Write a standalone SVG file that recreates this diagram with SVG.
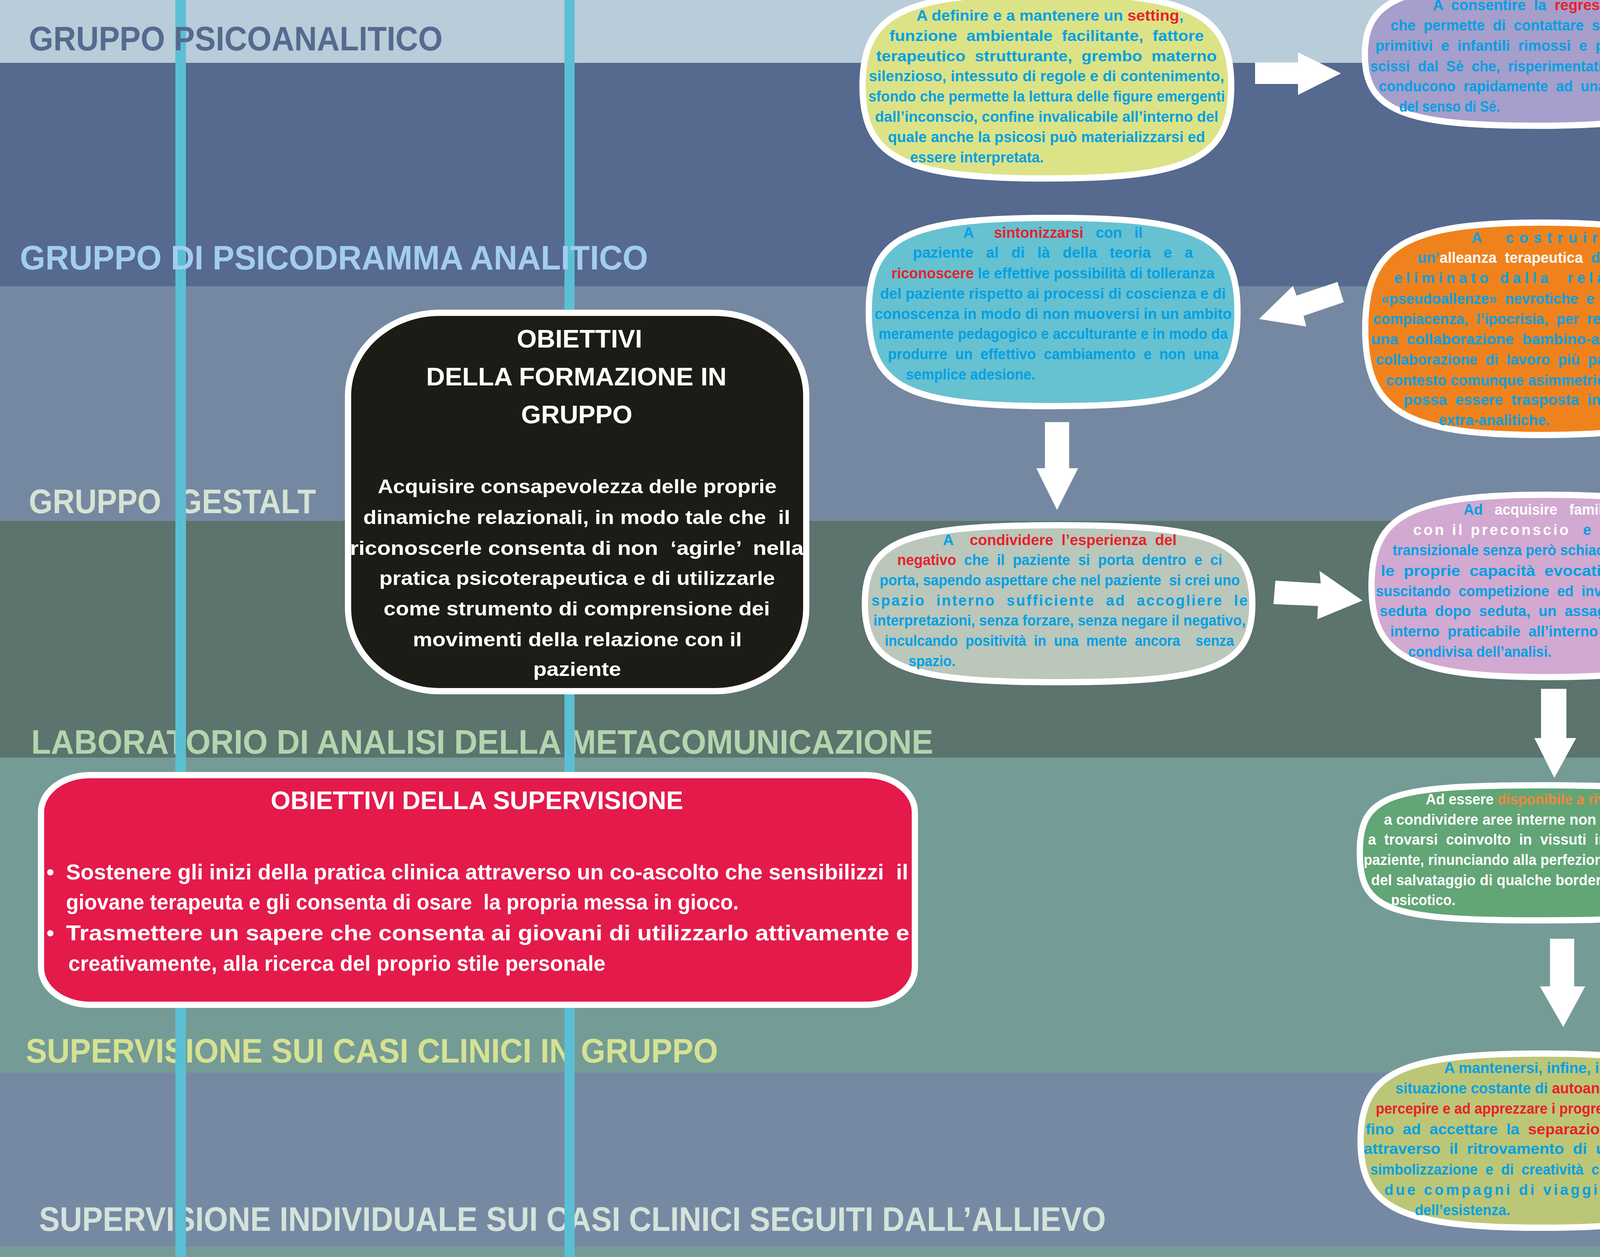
<svg xmlns="http://www.w3.org/2000/svg" width="4425" height="3219" viewBox="0 0 4425 3219">
<defs>
<style>
text{font-family:"Liberation Sans",Arial,sans-serif;font-weight:bold;white-space:pre}
.lab{font-size:88px}
.nb{font-size:38px;fill:#00A0E3}
.nw{font-size:38px;fill:#FFFFFF}
.r{fill:#E8202A}
.w{fill:#FFFFFF}
.b{fill:#00A0E3}
.o{fill:#F4873E}
.node{stroke:#FFFFFF;stroke-width:16}
.arrow{fill:#FFFFFF}
.bt{font-size:64px;fill:#FFFFFF}
.bb{font-size:50px;fill:#FFFFFF}
.rb{font-size:56px;fill:#FFFFFF}
.stripe{fill:#5BBFD3}
</style>
</defs>
<g id="background">
<rect x="0" y="0" width="4425" height="161" fill="#B8CCD9"/>
<rect x="0" y="161" width="4425" height="572" fill="#56698F"/>
<rect x="0" y="733" width="4425" height="601" fill="#7588A2"/>
<rect x="0" y="1334" width="4425" height="606" fill="#5C736E"/>
<rect x="0" y="1940" width="4425" height="807" fill="#759B97"/>
<rect x="0" y="2747" width="4425" height="445" fill="#7689A3"/>
<rect x="0" y="3192" width="4425" height="27" fill="#759B97"/>
</g>
<g id="band-labels-lower">
<text class="lab" xml:space="preserve" x="74" y="1314" textLength="735" lengthAdjust="spacingAndGlyphs" fill="#D5E3D2">GRUPPO  GESTALT</text>
<text class="lab" xml:space="preserve" x="80" y="1930" textLength="2309" lengthAdjust="spacingAndGlyphs" fill="#B2D5AE">LABORATORIO DI ANALISI DELLA METACOMUNICAZIONE</text>
<text class="lab" xml:space="preserve" x="66" y="2721" textLength="1772" lengthAdjust="spacingAndGlyphs" fill="#D6E292">SUPERVISIONE SUI CASI CLINICI IN GRUPPO</text>
<text class="lab" xml:space="preserve" x="100" y="3152" textLength="2731" lengthAdjust="spacingAndGlyphs" fill="#D4E3DA">SUPERVISIONE INDIVIDUALE SUI CASI CLINICI SEGUITI DALL’ALLIEVO</text>
</g>
<g id="stripes">
<rect class="stripe" x="449" y="0" width="27" height="3219"/>
<rect class="stripe" x="1445" y="0" width="26" height="3219"/>
</g>
<g id="band-labels-upper">
<text class="lab" xml:space="preserve" x="74" y="129" textLength="1059" lengthAdjust="spacingAndGlyphs" fill="#56698F">GRUPPO PSICOANALITICO</text>
<text class="lab" xml:space="preserve" x="51" y="690" textLength="1608" lengthAdjust="spacingAndGlyphs" fill="#A3CDF0">GRUPPO DI PSICODRAMMA ANALITICO</text>
</g>
<g id="connectors" class="arrow">
<polygon points="3213,160 3323,160 3323,134 3433,188 3323,243 3323,215 3213,215"/>
<polygon points="4241,354 4280,392 4207,475 4225,493 4112,538 4148,419 4168,437"/>
<polygon points="3424,722 3440,774 3337,809 3344,836 3223,817 3310,732 3319,757"/>
<polygon points="2675,1081 2737,1081 2737,1199 2760,1199 2706,1306 2653,1199 2675,1199"/>
<polygon points="3265,1487 3381,1494 3378,1462 3488,1538 3372,1586 3374,1552 3260,1547"/>
<polygon points="3945,1764 4010,1764 4010,1890 4035,1890 3979,1992 3928,1890 3945,1890"/>
<polygon points="3968,2404 4030,2404 4030,2526 4058,2526 4002,2630 3942,2526 3968,2526"/>
</g>
<g id="node-formazione">
<rect class="node" x="891" y="801" width="1173" height="969" rx="235" ry="212" fill="#1C1C17"/>
<text class="bt" xml:space="preserve" x="1323" y="890" textLength="321" lengthAdjust="spacingAndGlyphs">OBIETTIVI</text>
<text class="bt" xml:space="preserve" x="1091" y="987" textLength="769" lengthAdjust="spacingAndGlyphs">DELLA FORMAZIONE IN</text>
<text class="bt" xml:space="preserve" x="1334" y="1084" textLength="285" lengthAdjust="spacingAndGlyphs">GRUPPO</text>
<text class="bb" xml:space="preserve" x="967" y="1263" textLength="1021" lengthAdjust="spacingAndGlyphs">Acquisire consapevolezza delle proprie</text>
<text class="bb" xml:space="preserve" x="930" y="1342" textLength="1093" lengthAdjust="spacingAndGlyphs">dinamiche relazionali, in modo tale che  il</text>
<text class="bb" xml:space="preserve" x="896" y="1421" textLength="1161" lengthAdjust="spacingAndGlyphs">riconoscerle consenta di non  ‘agirle’  nella</text>
<text class="bb" xml:space="preserve" x="971" y="1498" textLength="1013" lengthAdjust="spacingAndGlyphs">pratica psicoterapeutica e di utilizzarle</text>
<text class="bb" xml:space="preserve" x="982" y="1576" textLength="989" lengthAdjust="spacingAndGlyphs">come strumento di comprensione dei</text>
<text class="bb" xml:space="preserve" x="1057" y="1655" textLength="842" lengthAdjust="spacingAndGlyphs">movimenti della relazione con il</text>
<text class="bb" xml:space="preserve" x="1365" y="1731" textLength="225" lengthAdjust="spacingAndGlyphs">paziente</text>
</g>
<g id="node-supervisione">
<rect class="node" x="105" y="1985" width="2237" height="588" rx="125" ry="95" fill="#E41A4B"/>
<text class="bt" xml:space="preserve" x="693" y="2072" textLength="1056" lengthAdjust="spacingAndGlyphs">OBIETTIVI DELLA SUPERVISIONE</text>
<text class="rb" x="119" y="2252">•</text>
<text class="rb" xml:space="preserve" x="169" y="2252" textLength="2156" lengthAdjust="spacingAndGlyphs">Sostenere gli inizi della pratica clinica attraverso un co-ascolto che sensibilizzi  il</text>
<text class="rb" xml:space="preserve" x="169" y="2329" textLength="1722" lengthAdjust="spacingAndGlyphs">giovane terapeuta e gli consenta di osare  la propria messa in gioco.</text>
<text class="rb" x="119" y="2408">•</text>
<text class="rb" xml:space="preserve" x="169" y="2408" textLength="2159" lengthAdjust="spacingAndGlyphs">Trasmettere un sapere che consenta ai giovani di utilizzarlo attivamente e</text>
<text class="rb" xml:space="preserve" x="175" y="2486" textLength="1375" lengthAdjust="spacingAndGlyphs">creativamente, alla ricerca del proprio stile personale</text>
</g>
<g id="node-setting">
<path class="node" fill="#DCE387" d="M2680,-17 C3048,-17 3152,35 3152,220 C3152,405 3048,457 2680,457 C2312,457 2208,405 2208,220 C2208,35 2312,-17 2680,-17 Z"/>
<text class="nb" xml:space="preserve" x="2346" y="53" textLength="684" lengthAdjust="spacingAndGlyphs">A definire e a mantenere un <tspan class="r">setting</tspan>,</text>
<text class="nb" xml:space="preserve" x="2277" y="105" textLength="805" lengthAdjust="spacingAndGlyphs">funzione  ambientale  facilitante,  fattore</text>
<text class="nb" xml:space="preserve" x="2243" y="157" textLength="872" lengthAdjust="spacingAndGlyphs">terapeutico  strutturante,  grembo  materno</text>
<text class="nb" xml:space="preserve" x="2224" y="208" textLength="910" lengthAdjust="spacingAndGlyphs">silenzioso, intessuto di regole e di contenimento,</text>
<text class="nb" xml:space="preserve" x="2223" y="260" textLength="913" lengthAdjust="spacingAndGlyphs">sfondo che permette la lettura delle figure emergenti</text>
<text class="nb" xml:space="preserve" x="2240" y="312" textLength="879" lengthAdjust="spacingAndGlyphs">dall’inconscio, confine invalicabile all’interno del</text>
<text class="nb" xml:space="preserve" x="2273" y="364" textLength="812" lengthAdjust="spacingAndGlyphs">quale anche la psicosi può materializzarsi ed</text>
<text class="nb" xml:space="preserve" x="2330" y="416" textLength="342" lengthAdjust="spacingAndGlyphs">essere interpretata.</text>
</g>
<g id="node-regressione">
<path class="node" fill="#A69ECB" d="M3931,-42 C4272,-42 4368,-2 4368,140 C4368,282 4272,322 3931,322 C3590,322 3494,282 3494,140 C3494,-2 3590,-42 3931,-42 Z"/>
<text class="nb" xml:space="preserve" x="3668" y="26" textLength="526" lengthAdjust="spacingAndGlyphs">A  consentire  la  <tspan class="r">regressione</tspan></text>
<text class="nb" xml:space="preserve" x="3560" y="78" textLength="742" lengthAdjust="spacingAndGlyphs">che  permette  di  contattare  stati  emotivi</text>
<text class="nb" xml:space="preserve" x="3521" y="130" textLength="820" lengthAdjust="spacingAndGlyphs">primitivi  e  infantili  rimossi  e  precocemente</text>
<text class="nb" xml:space="preserve" x="3508" y="183" textLength="845" lengthAdjust="spacingAndGlyphs">scissi  dal  Sè  che,  risperimentati  come  propri,</text>
<text class="nb" xml:space="preserve" x="3530" y="234" textLength="802" lengthAdjust="spacingAndGlyphs">conducono  rapidamente  ad  una  espansione</text>
<text class="nb" xml:space="preserve" x="3582" y="286" textLength="258" lengthAdjust="spacingAndGlyphs">del senso di Sé.</text>
</g>
<g id="node-alleanza">
<path class="node" fill="#F0821E" d="M3948,570 C4301,570 4401,630 4401,842 C4401,1054 4301,1114 3948,1114 C3595,1114 3495,1054 3495,842 C3495,630 3595,570 3948,570 Z"/>
<text class="nb" xml:space="preserve" x="3767" y="622" textLength="358" lengthAdjust="spacing">A  costruire</text>
<text class="nb" xml:space="preserve" x="3629" y="673" textLength="634" lengthAdjust="spacingAndGlyphs">un’<tspan class="w">alleanza  terapeutica</tspan>  dopo  aver</text>
<text class="nb" xml:space="preserve" x="3569" y="725" textLength="754" lengthAdjust="spacing">eliminato dalla  relazione le</text>
<text class="nb" xml:space="preserve" x="3536" y="778" textLength="821" lengthAdjust="spacingAndGlyphs">«pseudoallenze»  nevrotiche  e  psicotiche,   la</text>
<text class="nb" xml:space="preserve" x="3515" y="830" textLength="862" lengthAdjust="spacingAndGlyphs">compiacenza,  l’ipocrisia,  per  recuperare  prima</text>
<text class="nb" xml:space="preserve" x="3510" y="882" textLength="874" lengthAdjust="spacingAndGlyphs">una  collaborazione  bambino-adulto,  poi   una</text>
<text class="nb" xml:space="preserve" x="3522" y="934" textLength="849" lengthAdjust="spacingAndGlyphs">collaborazione  di  lavoro  più  paritaria  che  dal</text>
<text class="nb" xml:space="preserve" x="3548" y="987" textLength="794" lengthAdjust="spacingAndGlyphs">contesto comunque asimmetrico dell’analisi,</text>
<text class="nb" xml:space="preserve" x="3593" y="1037" textLength="704" lengthAdjust="spacingAndGlyphs">possa  essere  trasposta  in  situazioni</text>
<text class="nb" xml:space="preserve" x="3683" y="1089" textLength="285" lengthAdjust="spacingAndGlyphs">extra-analitiche.</text>
</g>
<g id="node-sintonizzarsi">
<path class="node" fill="#66C1D1" d="M2696,558 C3074,558 3168,606 3168,799 C3168,992 3074,1040 2696,1040 C2318,1040 2224,992 2224,799 C2224,606 2318,558 2696,558 Z"/>
<text class="nb" xml:space="preserve" x="2466" y="609" textLength="459" lengthAdjust="spacingAndGlyphs">A     <tspan class="r">sintonizzarsi</tspan>   con   il</text>
<text class="nb" xml:space="preserve" x="2337" y="660" textLength="717" lengthAdjust="spacingAndGlyphs">paziente   al   di   là   della   teoria   e   a</text>
<text class="nb" xml:space="preserve" x="2282" y="713" textLength="827" lengthAdjust="spacingAndGlyphs"><tspan class="r">riconoscere</tspan> le effettive possibilità di tolleranza</text>
<text class="nb" xml:space="preserve" x="2253" y="765" textLength="885" lengthAdjust="spacingAndGlyphs">del paziente rispetto ai processi di coscienza e di</text>
<text class="nb" xml:space="preserve" x="2239" y="817" textLength="914" lengthAdjust="spacingAndGlyphs">conoscenza in modo di non muoversi in un ambito</text>
<text class="nb" xml:space="preserve" x="2249" y="868" textLength="894" lengthAdjust="spacingAndGlyphs">meramente pedagogico e acculturante e in modo da</text>
<text class="nb" xml:space="preserve" x="2273" y="920" textLength="847" lengthAdjust="spacingAndGlyphs">produrre  un  effettivo  cambiamento  e  non  una</text>
<text class="nb" xml:space="preserve" x="2319" y="972" textLength="331" lengthAdjust="spacingAndGlyphs">semplice adesione.</text>
</g>
<g id="node-negativo">
<path class="node" fill="#BAC7BA" d="M2710,1345 C3107,1345 3206,1385 3206,1546 C3206,1707 3107,1747 2710,1747 C2313,1747 2214,1707 2214,1546 C2214,1385 2313,1345 2710,1345 Z"/>
<text class="nb" xml:space="preserve" x="2414" y="1396" textLength="598" lengthAdjust="spacingAndGlyphs">A    <tspan class="r">condividere  l’esperienza  del</tspan></text>
<text class="nb" xml:space="preserve" x="2297" y="1447" textLength="832" lengthAdjust="spacingAndGlyphs"><tspan class="r">negativo</tspan>  che  il  paziente  si  porta  dentro  e  ci</text>
<text class="nb" xml:space="preserve" x="2252" y="1499" textLength="922" lengthAdjust="spacingAndGlyphs">porta, sapendo aspettare che nel paziente  si crei uno</text>
<text class="nb" xml:space="preserve" x="2231" y="1551" textLength="963" lengthAdjust="spacing">spazio  interno  sufficiente  ad  accogliere  le</text>
<text class="nb" xml:space="preserve" x="2236" y="1602" textLength="953" lengthAdjust="spacingAndGlyphs">interpretazioni, senza forzare, senza negare il negativo,</text>
<text class="nb" xml:space="preserve" x="2265" y="1654" textLength="894" lengthAdjust="spacingAndGlyphs">inculcando  positività  in  una  mente  ancora    senza</text>
<text class="nb" xml:space="preserve" x="2326" y="1706" textLength="120" lengthAdjust="spacingAndGlyphs">spazio.</text>
</g>
<g id="node-familiarita">
<path class="node" fill="#D2A9D0" d="M3961,1267 C4312,1267 4411,1318 4411,1500 C4411,1682 4312,1734 3961,1734 C3610,1734 3511,1682 3511,1500 C3511,1318 3610,1267 3961,1267 Z"/>
<text class="nb" xml:space="preserve" x="3747" y="1318" textLength="443" lengthAdjust="spacingAndGlyphs">Ad   <tspan class="w">acquisire   familiarità</tspan></text>
<text class="nb" xml:space="preserve" x="3618" y="1370" textLength="702" lengthAdjust="spacing"><tspan class="w">con il preconscio</tspan>  e con l’area</text>
<text class="nb" xml:space="preserve" x="3565" y="1422" textLength="808" lengthAdjust="spacingAndGlyphs">transizionale senza però schiacciare l’altro con</text>
<text class="nb" xml:space="preserve" x="3535" y="1475" textLength="868" lengthAdjust="spacingAndGlyphs">le  proprie  capacità  evocative  ed  intuitive</text>
<text class="nb" xml:space="preserve" x="3522" y="1527" textLength="892" lengthAdjust="spacingAndGlyphs">suscitando  competizione  ed  invidia  ma  offrendo,</text>
<text class="nb" xml:space="preserve" x="3532" y="1578" textLength="874" lengthAdjust="spacingAndGlyphs">seduta  dopo  seduta,  un  assaggio  di  un  clima</text>
<text class="nb" xml:space="preserve" x="3559" y="1630" textLength="820" lengthAdjust="spacingAndGlyphs">interno  praticabile  all’interno  dell’esperienza</text>
<text class="nb" xml:space="preserve" x="3605" y="1682" textLength="367" lengthAdjust="spacingAndGlyphs">condivisa dell’analisi.</text>
</g>
<g id="node-rivisitare">
<path class="node" fill="#62A576" d="M3946,2011 C4341,2011 4411,2037 4411,2184 C4411,2331 4341,2357 3946,2357 C3551,2357 3481,2331 3481,2184 C3481,2037 3551,2011 3946,2011 Z"/>
<text class="nw" xml:space="preserve" x="3650" y="2060" textLength="598" lengthAdjust="spacingAndGlyphs">Ad essere <tspan class="o">disponibile a rivisitare</tspan> e</text>
<text class="nw" xml:space="preserve" x="3543" y="2112" textLength="810" lengthAdjust="spacingAndGlyphs">a condividere aree interne non metabolizzate,</text>
<text class="nw" xml:space="preserve" x="3502" y="2163" textLength="894" lengthAdjust="spacingAndGlyphs">a  trovarsi  coinvolto  in  vissuti  interni  scissi  del</text>
<text class="nw" xml:space="preserve" x="3491" y="2215" textLength="917" lengthAdjust="spacingAndGlyphs">paziente, rinunciando alla perfezione tecnica a favore</text>
<text class="nw" xml:space="preserve" x="3510" y="2267" textLength="878" lengthAdjust="spacingAndGlyphs">del salvataggio di qualche borderline e di qualche</text>
<text class="nw" xml:space="preserve" x="3561" y="2318" textLength="165" lengthAdjust="spacingAndGlyphs">psicotico.</text>
</g>
<g id="node-autoanalisi">
<path class="node" fill="#BCC677" d="M3947,2698 C4309,2698 4411,2747 4411,2921 C4411,3095 4309,3144 3947,3144 C3585,3144 3483,3095 3483,2921 C3483,2747 3585,2698 3947,2698 Z"/>
<text class="nb" xml:space="preserve" x="3697" y="2748" textLength="499" lengthAdjust="spacingAndGlyphs">A mantenersi, infine, in una</text>
<text class="nb" xml:space="preserve" x="3572" y="2800" textLength="748" lengthAdjust="spacingAndGlyphs">situazione costante di <tspan class="r">autoanalisi</tspan>, a <tspan class="r">saper</tspan></text>
<text class="nb r" xml:space="preserve" x="3522" y="2852" textLength="848" lengthAdjust="spacingAndGlyphs">percepire e ad apprezzare i progressi del paziente</text>
<text class="nb" xml:space="preserve" x="3496" y="2905" textLength="900" lengthAdjust="spacingAndGlyphs">fino  ad  accettare  la  <tspan class="r">separazione</tspan>  e  la  <tspan class="r">perdita</tspan></text>
<text class="nb" xml:space="preserve" x="3491" y="2955" textLength="911" lengthAdjust="spacingAndGlyphs">attraverso  il  ritrovamento  di  una  capacità  di</text>
<text class="nb" xml:space="preserve" x="3508" y="3008" textLength="879" lengthAdjust="spacingAndGlyphs">simbolizzazione  e  di  creatività  che  restituisca  ai</text>
<text class="nb" xml:space="preserve" x="3544" y="3060" textLength="806" lengthAdjust="spacing">due compagni di viaggio il   gusto</text>
<text class="nb" xml:space="preserve" x="3622" y="3112" textLength="244" lengthAdjust="spacingAndGlyphs">dell’esistenza.</text>
</g>
</svg>
